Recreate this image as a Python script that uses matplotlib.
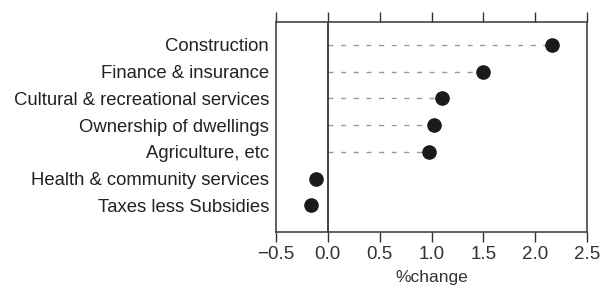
import matplotlib as mpl
mpl.use('Agg')
from matplotlib import pyplot as plt

industries = ['Construction', 'Finance & insurance', 'Cultural & recreational services',
              'Ownership of dwellings', 'Agriculture, etc', 'Health & community services',
              'Taxes less Subsidies']
change = [2.16, 1.50, 1.10, 1.02, 0.98, -0.11, -0.16]
xticks = [-0.5, 0.0, 0.5, 1.0, 1.5, 2.0, 2.5]
xlabels = ['\u22120.5', '0.0', '0.5', '1.0', '1.5', '2.0', '2.5']

plt.rcParams['font.family'] = ['Liberation Sans', 'DejaVu Sans']

fig = plt.figure(figsize=(6.04, 2.89), dpi=100)
ax = fig.add_axes([276 / 604, 1 - 232 / 289, 311 / 604, 210 / 289])

ypos = list(range(len(industries)))
for y, v in zip(ypos, change):
    if v > 0:
        ax.plot([0, v], [y, y], color='#999999', linestyle=(0, (3.6, 5.5)), linewidth=1)
ax.plot(change, ypos, 'o', color='#1a1a1a', markersize=9.5, zorder=3)
ax.axvline(0, color='#222222', linewidth=1.2)

ax.set_xlim(-0.5, 2.5)
ax.set_ylim(7.0, -0.86)
ax.set_xticks(xticks)
ax.set_xticklabels(xlabels, fontsize=13.5, color='#333333')
ax.set_yticks(ypos)
ax.set_yticklabels(industries, fontsize=13.3, color='#222222')
ax.tick_params(axis='y', length=0, pad=5)
ax.tick_params(axis='x', top=True, direction='out', length=7, width=1, color='#333333', pad=3)
for s in ax.spines.values():
    s.set_color('#444444')
    s.set_linewidth(1.2)
ax.set_xlabel('%change', fontsize=12.5, color='#333333', labelpad=5)

plt.savefig('out.png', dpi=100)
